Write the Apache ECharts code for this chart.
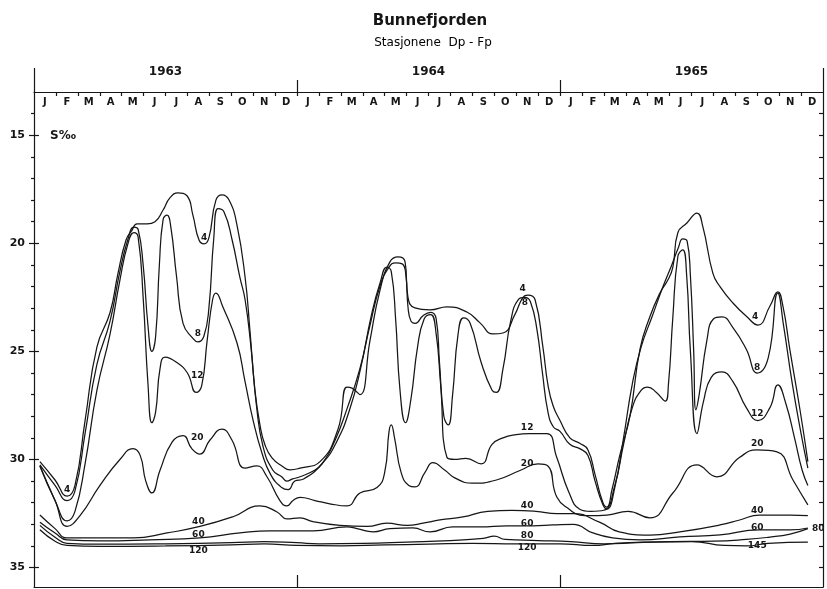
<!DOCTYPE html>
<html>
<head>
<meta charset="utf-8">
<script src="https://cdn.jsdelivr.net/npm/echarts@6/dist/echarts.min.js"></script>
<style>
  html, body { margin: 0; padding: 0; background: #ffffff; }
  #chart { width: 827px; height: 589px; }
</style>
</head>
<body>
<div id="chart"></div>
<script>
// Month letters and years along the top axis
const monthLetters = ['J','F','M','A','M','J','J','A','S','O','N','D'];
const years = ['1963', '1964', '1965'];
const yMajor = [15, 20, 25, 30, 35];

// Salinity (S ‰) by depth in metres; x = months since 1 Jan 1963
const s4 = [[0.27,30.1],[0.96,30.95],[1.51,31.7],[1.87,31.2],[2.33,28.2],[2.87,24.8],[3.47,23.2],[3.83,21.4],[4.2,19.85],[4.47,19.4],[4.7,19.1],[5.16,19.1],[5.52,19.0],[5.89,18.46],[6.2,17.9],[6.57,17.67],[6.98,17.8],[7.25,18.7],[7.53,19.85],[7.76,20.03],[7.98,19.75],[8.3,18.0],[8.58,17.76],[8.9,18.0],[9.26,19.15],[9.63,21.56],[9.85,24.0],[10.08,26.8],[10.31,28.4],[10.54,29.33],[10.86,29.93],[11.31,30.3],[11.68,30.48],[12.14,30.4],[13.05,30.1],[13.87,28.6],[14.28,26.65],[14.51,26.7],[14.87,27.0],[15.33,24.5],[15.78,22.2],[16.24,20.86],[16.61,20.63],[16.93,20.86],[17.06,22.48],[17.38,22.99],[18.07,23.08],[18.84,22.94],[19.75,23.18],[20.35,23.68],[20.94,24.19],[21.4,24.15],[21.94,23.3],[22.31,22.5],[22.54,22.4],[22.86,22.6],[23.22,24.8],[23.45,26.55],[23.68,27.5],[24.0,28.2],[24.45,29.0],[24.9,29.25],[25.27,29.55],[25.6,30.7],[25.96,32.0],[26.14,32.2],[26.37,31.4],[26.73,29.8],[27.19,28.0],[27.65,24.9],[28.1,23.4],[28.56,22.3],[28.92,21.7],[29.15,21.1],[29.38,19.5],[29.79,19.06],[30.25,18.6],[30.52,19.24],[30.98,21.4],[31.3,22.0],[31.89,22.76],[32.53,23.4],[33.03,23.78],[33.58,22.9],[33.94,22.25],[34.17,22.9],[34.49,24.93],[34.95,27.7],[35.31,30.1]];
const s8 = [[0.27,30.25],[0.96,31.2],[1.51,31.9],[1.87,31.45],[2.33,28.8],[2.87,25.6],[3.47,23.6],[3.92,21.3],[4.29,19.8],[4.56,19.25],[4.75,19.35],[4.98,21.0],[5.2,23.8],[5.38,25.0],[5.55,24.3],[5.72,21.0],[5.89,18.9],[6.07,18.7],[6.25,19.3],[6.5,21.5],[6.8,23.7],[7.25,24.4],[7.48,24.56],[7.75,24.3],[7.98,23.0],[8.2,19.8],[8.4,18.4],[8.67,18.55],[9.03,19.8],[9.4,21.6],[9.63,22.6],[9.9,24.8],[10.15,27.5],[10.45,29.4],[10.9,30.5],[11.3,30.8],[11.54,31.0],[11.8,30.9],[12.14,30.8],[12.8,30.5],[13.14,30.2],[13.7,29.2],[14.3,27.6],[14.87,25.8],[15.33,23.8],[15.78,22.0],[16.2,21.1],[16.5,20.9],[16.8,20.95],[16.97,21.5],[17.06,22.9],[17.2,23.6],[17.4,23.7],[17.75,23.35],[18.1,23.2],[18.35,23.5],[18.5,25.5],[18.7,28.0],[18.9,28.4],[19.1,27.0],[19.35,24.2],[19.6,23.45],[19.9,23.7],[20.4,25.5],[20.9,26.8],[21.1,26.9],[21.4,25.8],[21.75,23.6],[22.1,22.6],[22.4,22.5],[22.65,22.7],[22.95,24.0],[23.2,26.0],[23.45,27.8],[23.7,28.5],[24.0,28.7],[24.45,29.3],[24.9,29.5],[25.27,29.8],[25.6,31.0],[25.96,32.1],[26.14,32.3],[26.5,31.3],[26.9,29.0],[27.3,26.5],[27.7,24.8],[28.2,23.4],[28.7,22.0],[29.1,21.0],[29.4,20.2],[29.6,19.8],[29.8,19.9],[29.95,21.5],[30.1,25.0],[30.2,27.7],[30.35,27.0],[30.7,24.5],[31.0,23.5],[31.39,23.4],[31.89,23.9],[32.5,24.9],[33.0,26.0],[33.5,25.3],[33.94,22.3],[34.2,23.8],[34.6,26.5],[35.0,28.8],[35.31,30.4]];
const s12 = [[0.27,30.3],[0.96,31.9],[1.51,32.84],[1.87,32.4],[2.33,30.2],[2.87,26.8],[3.47,24.2],[3.92,21.7],[4.29,20.0],[4.56,19.5],[4.75,19.7],[4.98,22.5],[5.2,26.5],[5.38,28.3],[5.55,27.8],[5.75,25.8],[5.98,25.26],[6.5,25.5],[7.0,26.0],[7.4,26.9],[7.65,26.6],[7.9,24.5],[8.15,22.6],[8.3,22.3],[8.6,22.9],[9.26,24.6],[9.63,26.4],[10.0,28.2],[10.4,29.7],[10.8,30.7],[11.3,31.3],[11.6,31.4],[11.9,31.0],[12.3,30.9],[13.14,30.2],[13.8,29.2],[14.4,27.7],[14.9,25.8],[15.4,23.3],[15.8,21.8],[16.1,21.1],[16.3,21.3],[16.5,23.5],[16.7,26.8],[16.95,28.3],[17.2,27.2],[17.5,24.8],[17.8,23.5],[18.1,23.3],[18.35,24.2],[18.55,26.5],[18.84,29.9],[19.2,30.0],[19.7,29.95],[20.4,30.2],[20.9,29.3],[21.4,29.0],[22.0,28.85],[22.6,28.8],[23.4,28.8],[23.85,29.9],[24.4,31.5],[24.9,32.3],[25.4,32.4],[26.0,32.35],[26.5,31.2],[26.9,29.3],[27.3,27.6],[27.7,26.8],[28.0,26.65],[28.4,26.9],[28.8,27.3],[28.95,26.5],[29.15,23.4],[29.38,20.6],[29.6,20.3],[29.78,21.5],[29.95,25.0],[30.25,28.8],[30.55,27.3],[30.9,26.2],[31.39,25.95],[31.89,26.4],[32.5,27.6],[33.03,28.2],[33.58,27.6],[33.94,26.55],[34.3,27.4],[34.7,29.0],[35.05,30.5],[35.31,31.2]];
const s20 = [[0.27,30.3],[0.96,31.9],[1.51,33.1],[2.1,32.6],[3.01,31.2],[3.92,30.0],[4.52,29.5],[4.84,29.8],[5.1,31.0],[5.38,31.55],[5.75,30.5],[6.3,29.2],[6.8,28.9],[7.2,29.5],[7.57,29.75],[8.03,29.1],[8.58,28.6],[9.03,29.1],[9.63,30.4],[10.17,30.3],[10.63,30.8],[11.22,31.9],[11.54,32.15],[11.82,31.9],[12.14,31.75],[12.82,31.9],[13.5,32.05],[14.28,32.15],[14.87,31.55],[15.65,31.3],[16.0,30.6],[16.2,28.7],[16.3,28.4],[16.45,29.0],[16.75,30.6],[17.1,31.2],[17.38,31.27],[17.84,30.6],[18.2,30.15],[18.75,30.5],[19.2,30.85],[20.0,31.1],[21.1,30.95],[22.2,30.5],[23.0,30.2],[23.45,30.3],[23.86,31.75],[24.45,32.33],[24.9,32.57],[25.36,32.6],[26.14,32.57],[27.1,32.4],[28.1,32.7],[29.15,31.55],[30.25,30.25],[31.16,30.8],[32.2,29.9],[32.98,29.56],[33.9,29.65],[34.63,30.95],[35.31,32.1]];
const s40 = [[0.27,32.57],[0.96,33.2],[1.51,33.63],[3.01,33.63],[4.52,33.63],[6.07,33.4],[7.57,33.1],[9.08,32.65],[10.31,32.15],[11.09,32.43],[11.54,32.75],[12.14,32.7],[12.73,32.88],[13.96,33.05],[15.2,33.1],[16.1,32.95],[17.02,33.05],[17.75,32.95],[18.52,32.8],[19.57,32.66],[20.7,32.4],[21.8,32.36],[22.9,32.4],[23.86,32.5],[24.6,32.5],[25.8,32.9],[26.7,33.35],[28.1,33.5],[29.47,33.35],[31.3,33.03],[32.2,32.8],[33.1,32.57],[34.5,32.57],[35.31,32.6]];
const s60 = [[0.27,32.9],[0.96,33.4],[1.51,33.72],[3.01,33.77],[5.29,33.72],[7.57,33.63],[9.4,33.4],[10.77,33.3],[12.14,33.3],[12.73,33.3],[14.28,33.12],[14.74,33.2],[15.47,33.35],[16.24,33.2],[17.29,33.17],[18.07,33.35],[19.1,33.12],[20.35,33.12],[21.58,33.07],[22.77,33.07],[23.68,33.03],[24.6,33.0],[25.5,33.4],[26.4,33.63],[27.65,33.72],[29.47,33.58],[31.3,33.49],[33.1,33.26],[34.5,33.26],[35.31,33.17]];
const s80 = [[0.27,33.05],[0.96,33.6],[1.51,33.88],[3.0,33.92],[6.0,33.9],[9.0,33.85],[10.5,33.8],[12.0,33.85],[13.0,33.9],[15.0,33.88],[17.0,33.82],[19.0,33.75],[20.5,33.65],[21.0,33.55],[21.5,33.7],[23.0,33.75],[24.5,33.8],[26.0,33.9],[27.5,33.85],[29.0,33.8],[31.0,33.78],[32.5,33.7],[33.5,33.6],[34.5,33.45],[35.31,33.2]];
const sBottom = [[0.27,33.25],[0.96,33.78],[1.51,33.98],[3.0,34.02],[6.0,34.0],[9.0,33.95],[10.5,33.9],[12.0,33.98],[14.0,34.0],[16.0,33.95],[18.0,33.92],[20.0,33.88],[22.0,33.9],[24.0,33.9],[25.5,33.98],[26.5,33.88],[28.0,33.82],[30.0,33.8],[31.5,33.98],[32.5,34.0],[33.5,33.88],[35.31,33.82]];

const depthSeries = [
  { key: '4', data: s4 },
  { key: '8', data: s8 },
  { key: '12', data: s12 },
  { key: '20', data: s20 },
  { key: '40', data: s40 },
  { key: '60', data: s60 },
  { key: '80', data: s80 },
  { key: 'bunn', data: sBottom }
];

// Depth annotations written on the curves: [series, month, text, side, gap]
const depthLabels = [
  ['4', 1.51, '4', 'top', 2],
  ['4', 7.76, '4', 'top', 2], ['8', 7.48, '8', 'top', 4], ['12', 7.45, '12', 'top', 11], ['20', 7.45, '20', 'top', 10],
  ['40', 7.5, '40', 'top', 1], ['60', 7.5, '60', 'top', -1], ['bunn', 7.5, '120', 'bottom', 1],
  ['4', 22.3, '4', 'top', 5], ['8', 22.4, '8', 'bottom', 1], ['12', 22.5, '12', 'top', 2], ['20', 22.5, '20', 'top', 0],
  ['40', 22.5, '40', 'top', 1], ['60', 22.5, '60', 'top', -2], ['80', 22.5, '80', 'top', 0], ['bunn', 22.5, '120', 'bottom', -1],
  ['4', 32.9, '4', 'top', 2], ['8', 33.0, '8', 'top', 1], ['12', 33.0, '12', 'top', 2], ['20', 33.0, '20', 'top', 2],
  ['40', 33.0, '40', 'top', 0], ['60', 33.0, '60', 'top', -2], ['bunn', 33.0, '145', 'bottom', -3], ['80', 35.31, '80', 'right', 4]
];

function valueAt(data, m) {
  for (let i = 1; i < data.length; i++) {
    if (data[i][0] >= m) {
      const a = data[i - 1], b = data[i];
      const t = (m - a[0]) / (b[0] - a[0]);
      return a[1] + t * (b[1] - a[1]);
    }
  }
  return data[data.length - 1][1];
}

const ink = '#161616';
const FONT = '"DejaVu Sans", "Liberation Sans", sans-serif';
const range = (a, b) => { const r = []; for (let v = a; v <= b; v++) r.push(v); return r; };
const monthBounds = range(1, 35);
const monthMids = range(0, 35).map(v => v + 0.5);
const yMinor = range(14, 35).filter(v => v % 5 !== 0);
const yAll = range(14, 35);

const series = depthSeries.map(s => ({
  type: 'line',
  name: s.key,
  data: s.data,
  xAxisIndex: 0,
  yAxisIndex: 0,
  smooth: 0.5,
  symbol: 'none',
  silent: true,
  lineStyle: { color: ink, width: 1.25 },
  z: 3,
  markPoint: {
    symbol: 'circle',
    symbolSize: 0,
    silent: true,
    data: depthLabels.filter(l => l[0] === s.key).map(l => ({
      coord: [l[1], valueAt(s.data, l[1])],
      label: {
        show: true, formatter: l[2], position: l[3], distance: l[4],
        color: ink, fontSize: 9, fontWeight: 'bold', fontFamily: FONT
      }
    }))
  }
}));

const xBase = { type: 'value', min: 0, max: 36, gridIndex: 0, splitLine: { show: false } };
const yBase = { type: 'value', inverse: true, min: 13, max: 35.9, gridIndex: 0, splitLine: { show: false } };
const lineSty = { color: ink, width: 1.2 };

const option = {
  animation: false,
  backgroundColor: '#ffffff',
  grid: { left: 34, right: 4, top: 92, bottom: 2, containLabel: false },
  xAxis: [
    Object.assign({}, xBase, { show: false }),
    Object.assign({}, xBase, {
      position: 'top',
      axisLine: { show: true, onZero: false, lineStyle: lineSty },
      axisTick: { show: true, inside: true, length: 4, customValues: monthBounds, lineStyle: lineSty },
      axisLabel: { show: true, inside: true, customValues: monthMids, margin: 5,
        formatter: v => monthLetters[Math.floor(v) % 12],
        color: ink, fontSize: 10, fontWeight: 'bold', fontFamily: FONT }
    }),
    Object.assign({}, xBase, {
      position: 'top',
      axisLine: { show: false, onZero: false },
      axisTick: { show: true, length: 12, customValues: [12, 24], lineStyle: lineSty },
      axisLabel: { show: true, customValues: [6, 18, 30], margin: 14,
        formatter: v => years[Math.floor(v / 12)],
        color: ink, fontSize: 12, fontWeight: 'bold', fontFamily: FONT }
    }),
    Object.assign({}, xBase, {
      position: 'top',
      axisLine: { show: false, onZero: false },
      axisTick: { show: true, length: 24, customValues: [0, 36], lineStyle: lineSty },
      axisLabel: { show: false }
    }),
    Object.assign({}, xBase, {
      position: 'bottom',
      axisLine: { show: true, onZero: false, lineStyle: lineSty },
      axisTick: { show: true, inside: true, length: 12, customValues: [12, 24], lineStyle: lineSty },
      axisLabel: { show: false }
    })
  ],
  yAxis: [
    Object.assign({}, yBase, {
      position: 'left',
      axisLine: { show: true, onZero: false, lineStyle: lineSty },
      axisTick: { show: true, length: 5, customValues: yMajor, lineStyle: lineSty },
      axisLabel: { show: true, customValues: yMajor, margin: 9,
        color: ink, fontSize: 11, fontWeight: 'bold', fontFamily: FONT }
    }),
    Object.assign({}, yBase, {
      position: 'left',
      axisLine: { show: false, onZero: false },
      axisTick: { show: true, length: 3, customValues: yMinor, lineStyle: lineSty },
      axisLabel: { show: false }
    }),
    Object.assign({}, yBase, {
      position: 'left',
      axisLine: { show: false, onZero: false },
      axisTick: { show: true, inside: true, length: 5, customValues: yMajor, lineStyle: lineSty },
      axisLabel: { show: false }
    }),
    Object.assign({}, yBase, {
      position: 'right',
      axisLine: { show: true, onZero: false, lineStyle: lineSty },
      axisTick: { show: true, inside: true, length: 4, customValues: yAll, lineStyle: lineSty },
      axisLabel: { show: false }
    })
  ],
  graphic: [
    { type: 'text', x: 430, y: 21, style: { text: 'Bunnefjorden', align: 'center', verticalAlign: 'middle',
      textAlign: 'center', textVerticalAlign: 'middle', font: 'bold 15px ' + FONT, fill: ink } },
    { type: 'text', x: 433, y: 43, style: { text: 'Stasjonene  Dp - Fp', align: 'center', verticalAlign: 'middle',
      textAlign: 'center', textVerticalAlign: 'middle', font: '12px ' + FONT, fill: '#000' } },
    { type: 'text', x: 50, y: 136, style: { text: 'S‰', align: 'left', verticalAlign: 'middle',
      textAlign: 'left', textVerticalAlign: 'middle', font: 'bold 12px ' + FONT, fill: ink } }
  ],
  series: series
};

const chart = echarts.init(document.getElementById('chart'), null, { renderer: 'canvas' });
chart.setOption(option);
</script>
</body>
</html>
